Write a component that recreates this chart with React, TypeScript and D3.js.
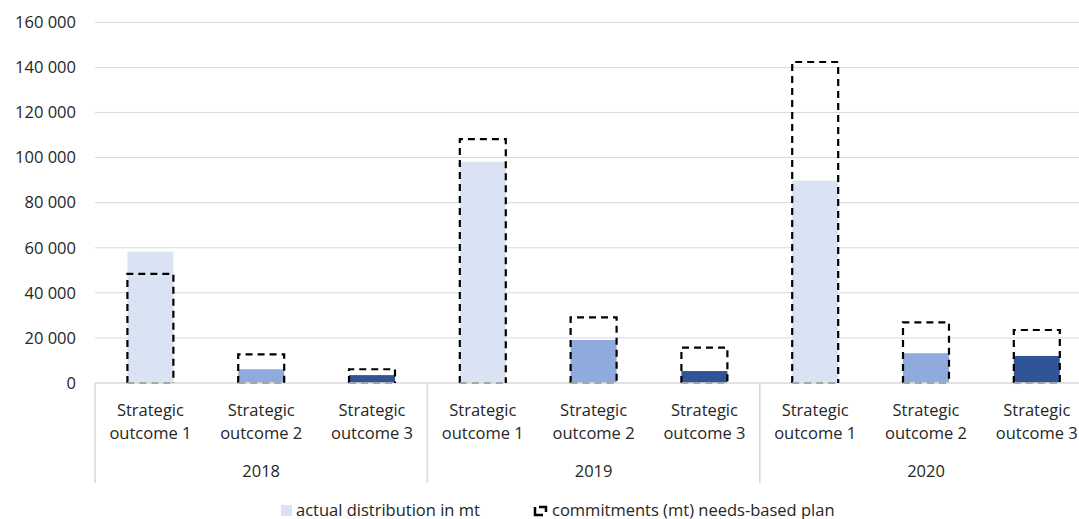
import React from "react";
import * as d3 from "d3";

const years = ["2018", "2019", "2020"];
const outcomes = ["Strategic outcome 1", "Strategic outcome 2", "Strategic outcome 3"];
// per year, per outcome
const actual = [
  [58300, 6100, 3500],
  [98100, 19100, 5300],
  [89800, 13200, 12000],
];
const commitments = [
  [48400, 12700, 6100],
  [108200, 29100, 15700],
  [142400, 26900, 23500],
];
const yTicks = [0, 20000, 40000, 60000, 80000, 100000, 120000, 140000, 160000];
const outcomeColors = ["#DAE3F3", "#8FAADC", "#2F5597"];
const legendLabels = ["actual distribution in mt", "commitments (mt) needs-based plan"];

const W = 1079;
const H = 519;
const left = 95;
const slot = 110.8;
const top = 22.3;
const bottom = 383;

export default function App() {
  const cats = years.flatMap((y, yi) => outcomes.map((o, oi) => ({ y, yi, o, oi, key: `${yi}-${oi}` })));
  const x = d3.scaleBand<string>().domain(cats.map((c) => c.key)).range([left, left + slot * cats.length]).padding(0);
  const yS = d3.scaleLinear().domain([0, 160000]).range([bottom, top]);
  const bw = x.bandwidth() * 0.415;
  const fmt = (v: number) => d3.format(",")(v).replace(/,/g, " ");
  const font = "'Open Sans', 'Noto Sans', sans-serif";
  const groupW = slot * 3;
  const fs = 16.5;

  return (
    <svg width={W} height={H} style={{ position: "absolute", left: 0, top: 0, background: "#fff" }} fontFamily={font}>
      {yTicks.map((t) => (
        <g key={t}>
          {t > 0 && <line x1={left} x2={W} y1={yS(t)} y2={yS(t)} stroke="#d9d9d9" strokeWidth={1} />}
          <text x={76} y={yS(t)} dy="0.35em" textAnchor="end" fontSize={fs} fill="#262626">
            {fmt(t)}
          </text>
        </g>
      ))}
      {/* bars */}
      {cats.map((c) => {
        const cx = (x(c.key) as number) + x.bandwidth() / 2;
        const a = actual[c.yi][c.oi];
        return (
          <rect key={"a" + c.key} x={cx - bw / 2} y={yS(a)} width={bw} height={yS(0) - yS(a)} fill={outcomeColors[c.oi]} />
        );
      })}
      {/* axis */}
      <line x1={left} x2={W} y1={bottom} y2={bottom} stroke="#d9d9d9" strokeWidth={1.5} />
      {years.map((yr, yi) => (
        <g key={yr}>
          <line x1={left + yi * groupW} x2={left + yi * groupW} y1={bottom} y2={483} stroke="#d9d9d9" strokeWidth={1.5} />
          <text x={left + yi * groupW + groupW / 2} y={477} textAnchor="middle" fontSize={fs} fill="#262626">
            {yr}
          </text>
        </g>
      ))}
      {/* commitments dashed boxes */}
      {cats.map((c) => {
        const cx = (x(c.key) as number) + x.bandwidth() / 2;
        const v = commitments[c.yi][c.oi];
        const x0 = cx - bw / 2;
        const x1 = cx + bw / 2;
        const y0 = yS(v);
        const y1 = yS(0);
        return (
          <g key={"c" + c.key} fill="none" strokeWidth={2.2} strokeDasharray="7,5">
            <path d={`M${x0},${y1} L${x0},${y0} L${x1},${y0} L${x1},${y1}`} stroke="#000" />
            <line x1={x0} x2={x1} y1={y1} y2={y1} stroke="#a6a6a6" />
          </g>
        );
      })}
      {/* category labels */}
      {cats.map((c) => {
        const cx = (x(c.key) as number) + x.bandwidth() / 2;
        const parts = c.o.split(" ");
        return (
          <text key={"l" + c.key} x={cx} textAnchor="middle" fontSize={fs} fill="#262626">
            <tspan x={cx} y={416}>{parts[0]}</tspan>
            <tspan x={cx} y={438.5}>{parts.slice(1).join(" ")}</tspan>
          </text>
        );
      })}
      {/* legend */}
      <rect x={281} y={505} width={11} height={11} fill={outcomeColors[0]} />
      <text x={296} y={516} fontSize={fs} fill="#262626">{legendLabels[0]}</text>
      <g fill="none" stroke="#000" strokeWidth={2.5}>
        <path d="M535,507 L535,515 L543,515" />
        <path d="M539,507 L546,507 L546,512" />
      </g>
      <text x={552} y={516} fontSize={fs} fill="#262626">{legendLabels[1]}</text>
    </svg>
  );
}
